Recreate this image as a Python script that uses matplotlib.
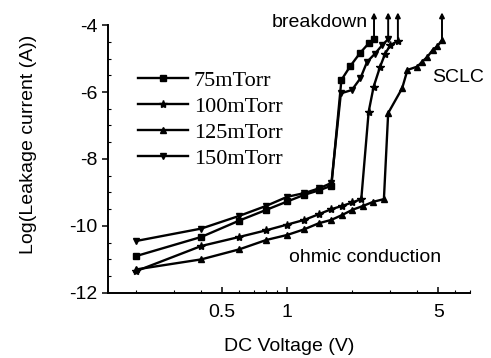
import matplotlib
matplotlib.use('Agg')
import matplotlib.pyplot as plt
from matplotlib.ticker import FixedLocator, NullFormatter

plt.rcParams['font.family'] = ['Liberation Sans', 'DejaVu Sans']
plt.rcParams['axes.unicode_minus'] = False

# 75 mTorr (squares)
v75 = [0.2, 0.4, 0.6, 0.8, 1.0, 1.2, 1.4, 1.6, 1.78, 1.96, 2.18, 2.38, 2.52]
i75 = [-10.9, -10.33, -9.84, -9.52, -9.27, -9.07, -8.94, -8.8, -5.64, -5.22, -4.82, -4.55, -4.43]

# 100 mTorr (stars)
v100 = [0.2, 0.4, 0.6, 0.8, 1.0, 1.2, 1.4, 1.6, 1.8, 2.0, 2.2, 2.38, 2.51, 2.69, 2.84, 3.0, 3.25]
i100 = [-11.35, -10.6, -10.33, -10.13, -9.96, -9.82, -9.65, -9.5, -9.4, -9.3, -9.2,
        -6.59, -5.84, -5.24, -4.85, -4.6, -4.47]

# 125 mTorr (triangles)
v125 = [0.2, 0.4, 0.6, 0.8, 1.0, 1.2, 1.4, 1.6, 1.8, 2.0, 2.25, 2.5, 2.8,
        2.93, 3.4, 3.6, 4.0, 4.2, 4.45, 4.7, 4.95, 5.2]
i125 = [-11.3, -11.0, -10.7, -10.42, -10.27, -10.1, -9.92, -9.82, -9.67, -9.52, -9.4, -9.28, -9.2,
        -6.63, -5.89, -5.34, -5.24, -5.1, -4.95, -4.75, -4.63, -4.45]

# 150 mTorr (inverted triangles)
v150 = [0.2, 0.4, 0.6, 0.8, 1.0, 1.2, 1.4, 1.6, 1.77, 1.99, 2.18, 2.34, 2.55, 2.75, 2.93]
i150 = [-10.45, -10.08, -9.7, -9.4, -9.13, -9.02, -8.88, -8.72, -6.04, -5.94, -5.59, -5.1, -4.85, -4.6, -4.42]

series = [
    (v75, i75, 's', '75mTorr'),
    (v100, i100, '*', '100mTorr'),
    (v125, i125, '^', '125mTorr'),
    (v150, i150, 'v', '150mTorr'),
]

fig = plt.figure(figsize=(4.91, 3.58), dpi=100)
ax = fig.add_axes([0.22, 0.182, 0.737, 0.748])

for v, i, m, lab in series:
    ms = 6 if m == '*' else 4.8
    ax.plot(v, i, color='black', lw=1.7, marker=m, ms=ms, label=lab)
    # breakdown arrow from the last point
    ax.annotate('', xy=(v[-1], -3.62), xytext=(v[-1], i[-1]),
                arrowprops=dict(arrowstyle='-|>', color='black', lw=1.4,
                                mutation_scale=7, shrinkA=0, shrinkB=0),
                annotation_clip=False)

ax.set_xscale('log')
ax.set_xlim(0.148, 7.0)
ax.set_ylim(-12, -4)

ax.spines['top'].set_visible(False)
ax.spines['right'].set_visible(False)
for s in ['left', 'bottom']:
    ax.spines[s].set_linewidth(1.4)

ax.xaxis.set_major_locator(FixedLocator([0.5, 1, 5]))
ax.set_xticklabels(['0.5', '1', '5'])
ax.xaxis.set_minor_locator(FixedLocator([0.2, 0.3, 0.4, 0.6, 0.7, 0.8, 0.9, 2, 3, 4, 6, 7]))
ax.xaxis.set_minor_formatter(NullFormatter())
ax.set_yticks([-12, -10, -8, -6, -4])
ax.set_yticks([-11.5, -11, -10.5, -9.5, -9, -8.5, -7.5, -7, -6.5, -5.5, -5, -4.5], minor=True)

ax.tick_params(axis='both', which='major', labelsize=14, width=1.1, length=4.5)
ax.tick_params(axis='x', which='major', direction='in', pad=8)
ax.tick_params(axis='y', which='major', direction='out', pad=3)
ax.tick_params(axis='both', which='minor', direction='in', length=2.5, width=0.8)

ax.set_xlabel('DC Voltage (V)', fontsize=14)
ax.xaxis.set_label_coords(0.5, -0.17)
ax.set_ylabel('Log(Leakage current (A))', fontsize=14)
ax.yaxis.set_label_coords(-0.196, 0.556)

ax.text(0.718, 1.011, 'breakdown', transform=ax.transAxes, fontsize=14,
        ha='right', va='center')
ax.text(0.895, 0.806, 'SCLC', transform=ax.transAxes, fontsize=14,
        ha='left', va='center')
ax.text(0.71, 0.131, 'ohmic conduction', transform=ax.transAxes, fontsize=14,
        ha='center', va='center')

ax.legend(loc='upper left', bbox_to_anchor=(0.083, 0.83), frameon=False,
          prop={'family': 'Liberation Serif', 'size': 16},
          handlelength=2.25, handletextpad=0.25, labelspacing=0.24,
          borderaxespad=0, borderpad=0)

fig.savefig('out.png', dpi=100)
